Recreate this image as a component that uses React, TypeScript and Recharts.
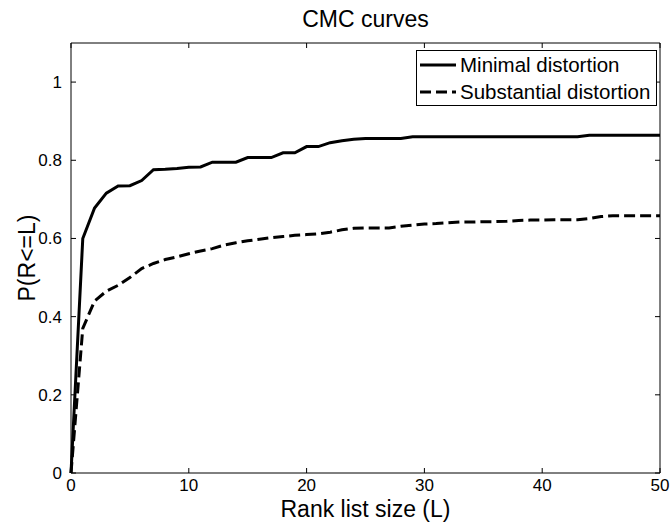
import React from 'react';
import { LineChart, Line, XAxis, YAxis, Legend, Label } from 'recharts';

// rank list size L
const ranks = [
  0, 1, 2, 3, 4, 5, 6, 7, 8, 9, 10, 11, 12, 13, 14, 15, 16, 17, 18, 19, 20, 21, 22, 23, 24, 25,
  26, 27, 28, 29, 30, 31, 32, 33, 34, 35, 36, 37, 38, 39, 40, 41, 42, 43, 44, 45, 46, 47, 48, 49, 50
];

// P(R<=L)
const minimalDistortion = [
  0, 0.6, 0.678, 0.716, 0.734, 0.735, 0.748, 0.776, 0.777, 0.779, 0.782, 0.783, 0.795, 0.795,
  0.795, 0.807, 0.807, 0.807, 0.819, 0.819, 0.835, 0.835, 0.845, 0.85, 0.854, 0.856, 0.856, 0.856,
  0.856, 0.86, 0.86, 0.86, 0.86, 0.86, 0.86, 0.86, 0.86, 0.86, 0.86, 0.86, 0.86, 0.86, 0.86, 0.86,
  0.864, 0.864, 0.864, 0.864, 0.864, 0.864, 0.864
];

const substantialDistortion = [
  0, 0.37, 0.44, 0.465, 0.48, 0.5, 0.523, 0.536, 0.546, 0.553, 0.561, 0.568, 0.574, 0.583, 0.589,
  0.594, 0.598, 0.602, 0.605, 0.608, 0.61, 0.612, 0.616, 0.622, 0.626, 0.627, 0.627, 0.627, 0.631,
  0.634, 0.637, 0.638, 0.64, 0.642, 0.642, 0.643, 0.643, 0.644, 0.646, 0.647, 0.647, 0.648, 0.648,
  0.648, 0.651, 0.656, 0.658, 0.658, 0.658, 0.658, 0.658
];

const xTicks = [0, 10, 20, 30, 40, 50];
const yTicks = [0, 0.2, 0.4, 0.6, 0.8, 1];

const data = ranks.map((rank, i) => ({
  rank,
  minimal: minimalDistortion[i],
  substantial: substantialDistortion[i]
}));

const font = '"Liberation Sans", Arial, sans-serif';
const dashes: Record<string, string | undefined> = {
  minimal: undefined,
  substantial: '11 5'
};

// top / right box edges only carry inward tick marks, no labels
const NoLabel = () => <g />;

function CurveLegend({ payload }: any) {
  const items = (payload || []).filter((entry: any) => entry.value);
  return (
    <div
      style={{
        border: '1px solid #000',
        background: '#fff',
        padding: '0 6px 0 3px',
        fontFamily: font,
        fontSize: 20.5,
        lineHeight: '27px',
        color: '#000'
      }}
    >
      {items.map((entry: any) => (
        <div key={entry.value} style={{ display: 'flex', alignItems: 'center', whiteSpace: 'nowrap' }}>
          <svg width={36} height={10}>
            <line
              x1={0}
              y1={5}
              x2={36}
              y2={5}
              stroke="#000"
              strokeWidth={3}
              strokeDasharray={dashes[entry.dataKey]}
            />
          </svg>
          <span style={{ marginLeft: 4 }}>{entry.value}</span>
        </div>
      ))}
    </div>
  );
}

export default function App() {
  return (
    <div style={{ position: 'absolute', left: 0, top: 0, width: 672, height: 522, background: '#fff' }}>
      <div
        style={{
          position: 'absolute',
          left: 71,
          width: 589,
          top: 6,
          textAlign: 'center',
          fontFamily: font,
          fontSize: 23,
          color: '#000'
        }}
      >
        CMC curves
      </div>
      <LineChart width={672} height={522} data={data} margin={{ top: 42, right: 11, bottom: 0, left: 11 }}>
        <XAxis
          dataKey="rank"
          type="number"
          domain={[0, 50]}
          ticks={xTicks}
          height={49}
          stroke="#000"
          tickSize={-5}
          tickMargin={11}
          tick={{ fill: '#000', fontSize: 17, fontFamily: font }}
        >
          <Label
            value="Rank list size (L)"
            position="insideBottom"
            offset={5}
            style={{ fill: '#000', fontSize: 23, fontFamily: font }}
          />
        </XAxis>
        <XAxis
          xAxisId="top"
          orientation="top"
          dataKey="rank"
          type="number"
          domain={[0, 50]}
          ticks={xTicks}
          height={1}
          stroke="#000"
          tickSize={-5}
          tick={NoLabel}
        />
        <YAxis
          type="number"
          domain={[0, 1.1]}
          ticks={yTicks}
          width={60}
          stroke="#000"
          tickSize={-5}
          tickMargin={14}
          tick={{ fill: '#000', fontSize: 17, fontFamily: font }}
        >
          <Label
            value="P(R<=L)"
            angle={-90}
            position="insideLeft"
            offset={16}
            style={{ fill: '#000', fontSize: 23, fontFamily: font, textAnchor: 'middle' }}
          />
        </YAxis>
        <YAxis
          yAxisId="right"
          orientation="right"
          type="number"
          domain={[0, 1.1]}
          ticks={yTicks}
          width={1}
          stroke="#000"
          tickSize={-5}
          tick={NoLabel}
        />
        <Legend
          layout="vertical"
          align="center"
          verticalAlign="middle"
          content={<CurveLegend />}
          wrapperStyle={{ top: 50, left: 416, width: 'auto' }}
        />
        <Line
          type="linear"
          dataKey="minimal"
          name="Minimal distortion"
          stroke="#000"
          strokeWidth={3}
          dot={false}
          activeDot={false}
          isAnimationActive={false}
        />
        <Line
          type="linear"
          dataKey="substantial"
          name="Substantial distortion"
          stroke="#000"
          strokeWidth={3}
          strokeDasharray={dashes.substantial}
          dot={false}
          activeDot={false}
          isAnimationActive={false}
        />
        {/* invisible twin so the top and right axes are bound and drawn */}
        <Line
          xAxisId="top"
          yAxisId="right"
          type="linear"
          dataKey="minimal"
          name=""
          stroke="none"
          legendType="none"
          dot={false}
          activeDot={false}
          isAnimationActive={false}
        />
      </LineChart>
    </div>
  );
}
